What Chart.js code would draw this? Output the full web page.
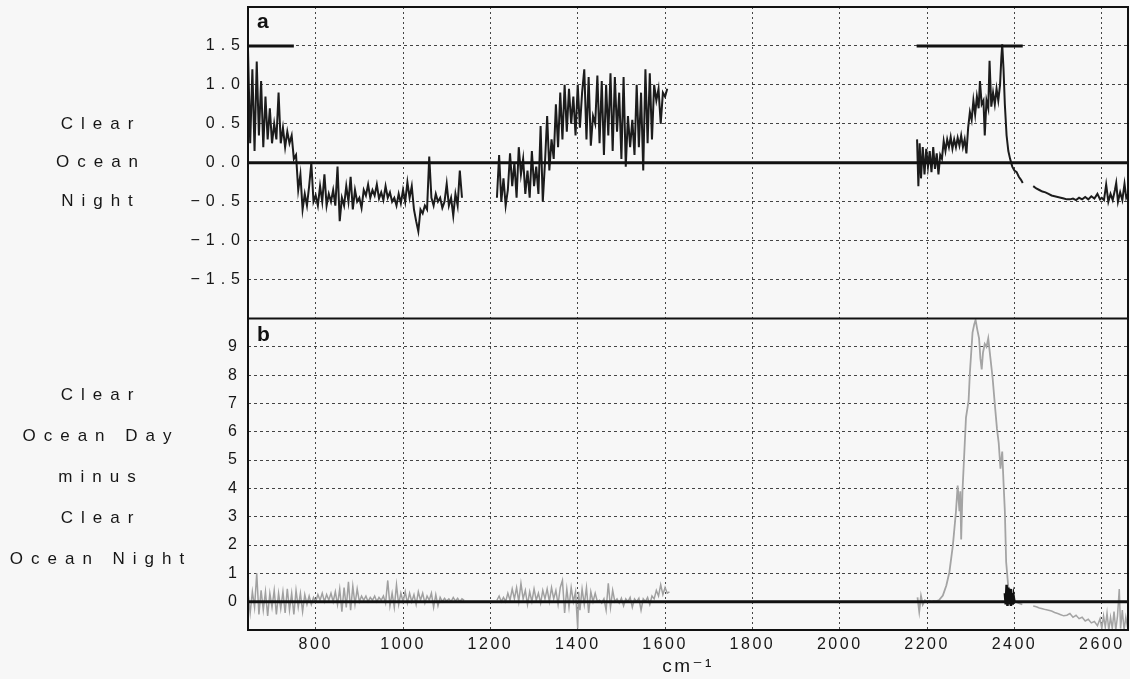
<!DOCTYPE html>
<html>
<head>
<meta charset="utf-8">
<script src="https://cdn.jsdelivr.net/npm/chart.js@4.4.1/dist/chart.umd.min.js"></script>
<style>
  body { margin:0; background:#f7f7f7; }
  canvas { display:block; }
</style>
</head>
<body>
<canvas id="spec" width="1130" height="679"></canvas>
<script>
// wavenumber axis (cm-1)
const xMin = 645, xMax = 2660;
const xTicks = [800, 1000, 1200, 1400, 1600, 1800, 2000, 2200, 2400, 2600];
const nightTicks = [-1.5, -1.0, -0.5, 0.0, 0.5, 1.0, 1.5];
const diffTicks = [0, 1, 2, 3, 4, 5, 6, 7, 8, 9];
const nightLabel = ['Clear', 'Ocean', 'Night'];
const diffLabel = ['Clear', 'Ocean Day', 'minus', 'Clear', 'Ocean Night'];

// panel a: clear ocean night, [cm-1, value]
const nightA = [[645,1.45],[650,0.25],[655,1.2],[660,0.15],[665,1.3],[670,0.35],[675,1.05],[680,0.2],
  [685,0.85],[690,0.3],[695,0.7],[700,0.25],[705,0.5],[710,0.3],[715,0.9],[720,0.25],[725,0.45],
  [730,0.2],[735,0.4],[740,0.25],[745,0.35],[750,0.05],[755,0.1],[760,-0.35],[765,-0.15],[770,-0.6],
  [775,-0.4],[780,-0.55],[785,-0.3],[790,0.0],[795,-0.5],[800,-0.42],[805,-0.55],[810,-0.3],[815,-0.5],
  [820,-0.15],[825,-0.55],[830,-0.4],[835,-0.5],[840,-0.35],[845,-0.55],[850,-0.05],[855,-0.75],
  [860,-0.45],[865,-0.55],[870,-0.3],[875,-0.5],[880,-0.18],[885,-0.6],[890,-0.35],[895,-0.5],
  [900,-0.45],[905,-0.58],[910,-0.35],[915,-0.42],[920,-0.28],[925,-0.45],[930,-0.35],[935,-0.42],
  [940,-0.28],[945,-0.46],[950,-0.38],[955,-0.48],[960,-0.3],[965,-0.45],[970,-0.38],[975,-0.5],
  [980,-0.45],[985,-0.55],[990,-0.4],[995,-0.52],[1000,-0.35],[1005,-0.5],[1010,-0.25],[1015,-0.45],
  [1020,-0.3],[1025,-0.6],[1030,-0.75],[1035,-0.88],[1040,-0.6],[1045,-0.65],[1050,-0.55],[1055,-0.6],
  [1060,0.08],[1065,-0.45],[1070,-0.55],[1075,-0.4],[1080,-0.5],[1085,-0.45],[1090,-0.58],[1095,-0.5],
  [1100,-0.27],[1105,-0.55],[1110,-0.45],[1115,-0.68],[1120,-0.4],[1125,-0.55],[1130,-0.1],[1135,-0.45]];
const nightB = [[1215,-0.45],[1220,0.1],[1225,-0.5],[1230,-0.2],[1235,-0.55],[1240,-0.35],[1245,0.12],
  [1250,-0.3],[1255,0.0],[1260,-0.45],[1265,0.2],[1270,-0.15],[1275,0.05],[1280,-0.4],[1285,-0.1],
  [1290,-0.45],[1295,0.15],[1300,-0.3],[1305,-0.05],[1310,-0.4],[1315,0.47],[1320,-0.5],[1325,0.0],
  [1330,0.6],[1335,-0.1],[1340,0.3],[1345,0.05],[1350,0.75],[1355,0.2],[1360,0.9],[1365,0.3],[1370,1.0],
  [1375,0.4],[1380,0.95],[1385,0.5],[1390,0.85],[1395,0.35],[1400,1.0],[1405,0.45],[1410,0.9],[1415,1.2],
  [1420,0.3],[1425,1.1],[1430,0.22],[1435,0.6],[1440,0.5],[1445,1.12],[1450,0.25],[1455,1.05],[1460,0.1],
  [1465,1.0],[1470,0.35],[1475,1.15],[1480,0.15],[1485,1.1],[1490,0.4],[1495,0.9],[1500,0.05],[1505,1.1],
  [1510,-0.05],[1515,0.6],[1520,0.2],[1525,0.55],[1530,0.1],[1535,1.0],[1540,0.2],[1545,0.9],[1550,-0.1],
  [1555,1.2],[1560,0.25],[1565,1.15],[1570,0.3],[1575,1.0],[1580,0.8],[1585,0.95],[1590,0.5],[1595,0.9],
  [1600,0.85],[1605,0.95]];
const nightC = [[2177,0.3],[2180,-0.3],[2183,0.25],[2186,-0.2],[2190,0.2],[2194,-0.15],[2198,0.18],
  [2202,-0.05],[2206,0.15],[2210,-0.12],[2214,0.2],[2218,-0.08],[2222,0.12],[2226,-0.15],[2230,0.1],
  [2234,0.05],[2238,0.28],[2242,0.15],[2246,0.3],[2250,0.2],[2254,0.33],[2258,0.18],[2262,0.3],
  [2266,0.2],[2270,0.32],[2274,0.22],[2278,0.35],[2282,0.2],[2286,0.3],[2290,0.12],[2294,0.45],
  [2298,0.65],[2302,0.55],[2306,0.8],[2310,0.62],[2314,0.85],[2318,0.7],[2321,1.05],[2325,0.75],
  [2329,0.8],[2332,0.35],[2336,0.8],[2340,0.7],[2343,1.31],[2347,0.72],[2351,0.9],[2355,0.75],
  [2359,0.95],[2363,0.8],[2367,1.0],[2370,1.35],[2372,1.52],[2375,1.2],[2378,0.75],[2382,0.35],
  [2386,0.15],[2390,0.05],[2395,-0.05],[2400,-0.1],[2405,-0.12],[2410,-0.18],[2415,-0.22],[2419,-0.26]];
const nightD = [[2443,-0.3],[2450,-0.33],[2457,-0.35],[2464,-0.37],[2471,-0.38],[2478,-0.4],[2485,-0.42],
  [2492,-0.43],[2499,-0.44],[2506,-0.45],[2513,-0.46],[2520,-0.47],[2527,-0.47],[2534,-0.46],[2541,-0.48],
  [2548,-0.45],[2555,-0.47],[2562,-0.44],[2569,-0.47],[2576,-0.43],[2583,-0.46],[2590,-0.4],[2596,-0.47],
  [2600,-0.45],[2605,-0.48],[2610,-0.28],[2615,-0.5],[2620,-0.4],[2625,-0.48],[2630,-0.35],[2633,-0.26],
  [2637,-0.5],[2642,-0.38],[2647,-0.48],[2652,-0.27],[2656,-0.45],[2660,-0.4]];
// horizontal marks at 1.5 over the two bands
const bandLevel = 1.5;
const bandSpans = [[645, 750], [2176, 2419]];

// panel b: day minus night
const diffA = [[645,0.3],[650,-0.4],[655,0.35],[660,-0.2],[665,1.0],[670,-0.45],[675,0.4],[680,-0.3],
  [685,0.35],[690,-0.5],[695,0.3],[700,-0.2],[705,0.4],[710,-0.45],[715,0.3],[720,-0.25],[725,0.35],
  [730,-0.4],[735,0.45],[740,-0.3],[745,0.3],[750,-0.45],[755,0.4],[760,-0.2],[765,0.3],[770,-0.35],
  [775,0.25],[780,-0.1],[785,0.2],[790,-0.1],[795,0.15],[800,0.0],[805,0.25],[810,0.05],[815,0.3],
  [820,0.0],[825,0.25],[830,0.05],[835,0.3],[840,0.0],[845,0.35],[850,-0.1],[855,0.45],[860,-0.35],
  [865,0.5],[870,-0.2],[875,0.7],[880,-0.3],[885,0.55],[890,-0.1],[895,0.45],[900,0.0],[905,0.2],
  [910,0.05],[915,0.2],[920,0.0],[925,0.15],[930,0.05],[935,0.2],[940,0.0],[945,0.15],[950,0.05],
  [955,0.2],[960,-0.05],[965,0.75],[970,-0.15],[975,0.3],[980,-0.2],[985,0.6],[990,-0.1],[995,0.3],
  [1000,0.0],[1005,0.35],[1010,-0.05],[1015,0.3],[1020,0.0],[1025,0.25],[1030,-0.1],[1035,0.35],
  [1040,0.05],[1045,0.3],[1050,-0.05],[1055,0.2],[1060,0.05],[1065,0.3],[1070,-0.2],[1075,0.25],
  [1080,-0.15],[1085,0.15],[1090,0.0],[1095,0.12],[1100,0.02],[1105,0.1],[1110,0.0],[1115,0.15],
  [1120,0.02],[1125,0.12],[1130,0.0],[1135,0.1],[1140,0.05]];
const diffB = [[1215,0.05],[1220,0.2],[1225,0.0],[1230,0.15],[1235,0.0],[1240,0.3],[1245,0.05],[1250,0.45],
  [1255,0.1],[1260,0.5],[1265,0.0],[1270,0.65],[1275,0.1],[1280,0.4],[1285,-0.1],[1290,0.35],[1295,0.0],
  [1300,0.45],[1305,0.05],[1310,0.3],[1315,-0.05],[1320,0.4],[1325,0.1],[1330,0.45],[1335,0.0],[1340,0.5],
  [1345,0.1],[1350,0.4],[1355,-0.1],[1360,0.5],[1365,0.75],[1370,-0.4],[1375,0.45],[1380,-0.2],[1385,0.5],
  [1390,0.0],[1395,0.35],[1400,-0.95],[1402,0.35],[1405,-0.3],[1410,0.45],[1415,-0.1],[1420,0.5],
  [1425,-0.4],[1430,0.35],[1435,0.0],[1440,0.3],[1445,0.0],[1450,0.05],[1455,-0.05],[1460,0.1],
  [1465,-0.3],[1470,0.65],[1475,-0.2],[1480,0.4],[1485,0.0],[1490,0.1],[1495,-0.05],[1500,0.12],
  [1505,-0.15],[1510,0.1],[1515,0.0],[1520,0.15],[1525,-0.2],[1530,0.1],[1535,0.0],[1540,0.12],
  [1545,-0.3],[1550,0.1],[1555,0.0],[1560,0.15],[1565,-0.1],[1570,0.2],[1575,0.1],[1580,0.4],
  [1585,0.2],[1590,0.6],[1595,0.25],[1600,0.5],[1605,0.3],[1610,0.35]];
const diffC = [[2178,0.15],[2182,-0.35],[2186,0.2],[2190,-0.1],[2195,0.05],[2200,0.0],[2205,0.03],
  [2210,0.0],[2215,0.03],[2220,0.02],[2227,0.05],[2236,0.22],[2244,0.57],[2251,1.04],[2259,1.99],
  [2266,3.17],[2270,4.1],[2274,3.2],[2276,3.9],[2278,2.2],[2281,3.9],[2285,5.2],[2289,6.5],[2292,6.8],
  [2295,7.1],[2298,8.1],[2301,8.8],[2304,9.5],[2308,9.8],[2311,9.95],[2315,9.6],[2319,9.3],[2322,8.6],
  [2325,8.2],[2328,8.8],[2332,9.1],[2336,9.0],[2340,9.3],[2345,8.6],[2350,7.9],[2356,6.8],[2360,6.1],
  [2364,5.6],[2368,4.7],[2372,5.3],[2375,4.2],[2378,3.2],[2381,1.4],[2386,0.5],[2391,0.1],[2397,0.0],
  [2403,0.0],[2410,-0.05],[2418,-0.1]];
const diffD = [[2443,-0.15],[2450,-0.18],[2457,-0.22],[2464,-0.25],[2471,-0.28],[2478,-0.3],[2485,-0.33],
  [2492,-0.38],[2499,-0.42],[2506,-0.46],[2513,-0.5],[2520,-0.48],[2527,-0.42],[2534,-0.55],[2541,-0.48],
  [2548,-0.6],[2555,-0.55],[2562,-0.68],[2569,-0.62],[2576,-0.75],[2583,-0.7],[2590,-0.85],[2596,-0.6],
  [2600,-0.95],[2604,-0.5],[2608,-0.9],[2612,-0.4],[2616,-1.0],[2620,-0.55],[2624,-0.95],[2628,-0.35],
  [2632,-1.0],[2636,-0.5],[2640,0.45],[2643,-0.95],[2647,-0.3],[2651,-1.0],[2655,-0.55],[2660,-1.0]];
// dark cluster near the CO2 band edge
const diffDark = [[2378,0.3],[2380,-0.1],[2382,0.6],[2384,-0.15],[2386,0.5],[2388,-0.1],[2390,0.45],
  [2392,-0.15],[2394,0.3],[2396,-0.1],[2398,0.2],[2400,0.0]];

const FONT = "'Liberation Sans', 'DejaVu Sans', sans-serif";
Chart.defaults.font.family = FONT;
Chart.defaults.font.size = 16;
Chart.defaults.color = '#161616';

const toXY = arr => arr.map(([x, y]) => ({ x, y }));
const line = (arr, axis, color, width) => ({
  data: toXY(arr), yAxisID: axis, borderColor: color, borderWidth: width,
  pointRadius: 0, tension: 0, fill: false
});

const datasets = [
  ...bandSpans.map(s => line([[s[0], bandLevel], [s[1], bandLevel]], 'ya', '#111', 3)),
  line(nightA, 'ya', '#1c1c1c', 2),
  line(nightB, 'ya', '#1c1c1c', 2),
  line(nightC, 'ya', '#1c1c1c', 2),
  line(nightD, 'ya', '#1c1c1c', 2),
  line(diffDark, 'yb', '#111', 2.5),
  line(diffA, 'yb', '#a0a0a0', 1.5),
  line(diffB, 'yb', '#a0a0a0', 1.5),
  line(diffC, 'yb', '#a4a4a4', 1.8),
  line(diffD, 'yb', '#a4a4a4', 1.5)
];

const dotGrid = { color: '#444', lineWidth: 1, drawTicks: false };
const fmtNight = v => (v < 0 ? '\u2212' : '') + Math.abs(v).toFixed(1);
const noPad = s => { s.paddingTop = 0; s.paddingBottom = 0; s.paddingLeft = 0; s.paddingRight = 0; };

// frame, zero lines, panel letters and the side captions
const decor = {
  id: 'decor',
  beforeDraw(chart) { chart.ctx.letterSpacing = '2.5px'; },
  afterDatasetsDraw(chart) {
    const { ctx, chartArea: ca } = chart;
    const ya = chart.scales.ya, yb = chart.scales.yb;
    ctx.save();
    ctx.letterSpacing = '0px';
    ctx.strokeStyle = '#111';
    ctx.lineWidth = 3;
    [ya, yb].forEach(s => {
      const y = s.getPixelForValue(0);
      ctx.beginPath(); ctx.moveTo(ca.left, y); ctx.lineTo(ca.right, y); ctx.stroke();
    });
    ctx.lineWidth = 2;
    ctx.strokeRect(ca.left, ca.top, ca.right - ca.left, ca.bottom - ca.top);
    ctx.beginPath(); ctx.moveTo(ca.left, ya.bottom); ctx.lineTo(ca.right, ya.bottom); ctx.stroke();
    ctx.fillStyle = '#111';
    ctx.font = 'bold 21px ' + FONT;
    ctx.textBaseline = 'middle';
    ctx.fillText('a', ca.left + 9, ya.top + 15);
    ctx.fillText('b', ca.left + 9, yb.top + 17);
    ctx.restore();
    // y tick labels are drawn after this hook (z:1) with wider spacing
    ctx.letterSpacing = '6px';
  },
  afterDraw(chart) {
    const { ctx } = chart;
    const ya = chart.scales.ya, yb = chart.scales.yb;
    ctx.save();
    ctx.letterSpacing = '8px';
    ctx.font = '17px ' + FONT;
    ctx.fillStyle = '#161616';
    ctx.textAlign = 'center';
    ctx.textBaseline = 'middle';
    nightLabel.forEach((t, i) => ctx.fillText(t, 101, ya.getPixelForValue(0.5 - i * 0.5)));
    const mid = (yb.top + yb.bottom) / 2 + 3;
    diffLabel.forEach((t, i) => ctx.fillText(t, 101, mid + (i - 2) * 41));
    ctx.restore();
  }
};

new Chart(document.getElementById('spec'), {
  type: 'line',
  data: { datasets },
  options: {
    responsive: false,
    animation: false,
    events: [],
    layout: { padding: { top: 7, right: 2, left: 0, bottom: 0 } },
    plugins: { legend: { display: false }, tooltip: { enabled: false } },
    scales: {
      x: {
        type: 'linear', min: xMin, max: xMax,
        afterBuildTicks: s => { s.ticks = xTicks.map(v => ({ value: v })); },
        afterFit: s => { s.height = 49; noPad(s); },
        ticks: { padding: 5, callback: v => String(v), maxRotation: 0, autoSkip: false, z: 0 },
        grid: dotGrid,
        border: { display: false, dash: [2, 3] },
        title: { display: true, text: 'cm\u207B\u00B9', font: { size: 19 }, padding: { top: 0, bottom: 1 } }
      },
      yb: {
        type: 'linear', position: 'left', stack: 'panels', stackWeight: 1,
        min: -1, max: 10,
        afterBuildTicks: s => { s.ticks = diffTicks.map(v => ({ value: v })); },
        afterFit: s => { s.width = 248; noPad(s); },
        ticks: { padding: 5, z: 1, autoSkip: false, callback: v => String(v) },
        grid: { ...dotGrid, lineWidth: c => (c.tick && c.tick.value === 0 ? 0 : 1) },
        border: { display: false, dash: [3, 3] }
      },
      ya: {
        type: 'linear', position: 'left', stack: 'panels', stackWeight: 1,
        min: -2, max: 2,
        afterBuildTicks: s => { s.ticks = nightTicks.map(v => ({ value: v })); },
        afterFit: s => { s.width = 248; noPad(s); },
        ticks: { padding: 2, z: 1, autoSkip: false, callback: v => fmtNight(v) },
        grid: { ...dotGrid, lineWidth: c => (c.tick && c.tick.value === 0 ? 0 : 1) },
        border: { display: false, dash: [3, 3] }
      }
    }
  },
  plugins: [decor]
});
</script>
</body>
</html>
